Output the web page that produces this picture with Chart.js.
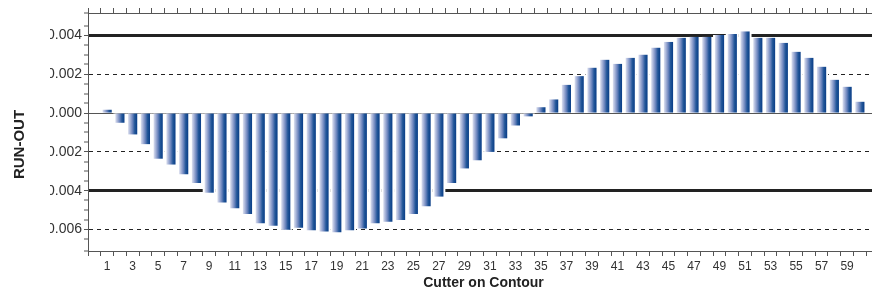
<!DOCTYPE html>
<html>
<head>
<meta charset="utf-8">
<script src="https://cdn.jsdelivr.net/npm/chart.js@4"></script>
<style>
  html, body { margin: 0; padding: 0; background: #fff; overflow: hidden; }
  #wrap { width: 882px; height: 292px; }
</style>
</head>
<body>
<div id="wrap"><canvas id="runout" width="882" height="292"></canvas></div>
<script>
/* Run-out per cutter - bar chart */

// cutter numbers (x categories)
const cutters = [
  1, 2, 3, 4, 5, 6, 7, 8, 9, 10, 11, 12, 13, 14, 15, 16, 17, 18, 19, 20,
  21, 22, 23, 24, 25, 26, 27, 28, 29, 30, 31, 32, 33, 34, 35, 36, 37, 38, 39, 40,
  41, 42, 43, 44, 45, 46, 47, 48, 49, 50, 51, 52, 53, 54, 55, 56, 57, 58, 59, 60
];

// run-out values
const runOut = [
  0.00017, -0.0005, -0.0011, -0.0016, -0.00235, -0.00265, -0.00315, -0.0036, -0.0041, -0.0046,
  -0.0049, -0.0052, -0.00567, -0.0058, -0.006, -0.0059, -0.00603, -0.0061, -0.00613, -0.00603,
  -0.00594, -0.00567, -0.0056, -0.0055, -0.0052, -0.0048, -0.0043, -0.0036, -0.00285, -0.00243,
  -0.002, -0.0013, -0.00064, -0.00017, 0.0003, 0.0007, 0.00145, 0.0019, 0.00233, 0.00274,
  0.00253, 0.00284, 0.003, 0.00336, 0.00366, 0.00387, 0.00392, 0.00392, 0.00402, 0.00407,
  0.0042, 0.00387, 0.00387, 0.00361, 0.00315, 0.00284, 0.00238, 0.00171, 0.00135, 0.00058
];

// labelled y ticks
const yTickLabels = [0.004, 0.002, 0, -0.002, -0.004, -0.006];
const yLimitLines = [0.004, -0.004];   // thick solid lines
const yWarnLines = [0.002, -0.002, -0.006];  // dashed lines

const barPct = 0.72;
const labelClipX = 50;

function near(list, v) {
  return list.some(t => Math.abs(t - v) < 1e-7);
}

function barGradient(ctx) {
  const chart = ctx.chart;
  const xs = chart.scales && chart.scales.x;
  if (!xs || ctx.dataIndex === undefined) return '#3a63a8';
  const cx = xs.getPixelForValue(cutters[ctx.dataIndex]);
  const half = (xs.getPixelForValue(1) - xs.getPixelForValue(0)) * barPct / 2;
  if (!isFinite(cx) || !isFinite(half)) return '#3a63a8';
  const g = chart.ctx.createLinearGradient(cx - half, 0, cx + half, 0);
  g.addColorStop(0, '#dde1f0');
  g.addColorStop(0.25, '#a3b0d6');
  g.addColorStop(0.5, '#6580ba');
  g.addColorStop(0.72, '#235799');
  g.addColorStop(1, '#083c86');
  return g;
}

// y tick labels are cut at the left like in the source picture
const clipYLabels = {
  id: 'clipYLabels',
  afterDatasetsDraw(chart) {
    const c = chart.ctx;
    c.save();
    c.beginPath();
    c.rect(labelClipX, 0, chart.width, chart.height);
    c.clip();
  },
  afterDraw(chart) {
    chart.ctx.restore();
  }
};

const points = cutters.map((c, i) => ({ x: c, y: runOut[i] }));

new Chart(document.getElementById('runout'), {
  type: 'bar',
  data: {
    datasets: [{
      label: 'backing',
      data: points,
      backgroundColor: '#ffffff',
      barPercentage: 1.02,
      categoryPercentage: 1,
      grouped: false,
      order: 2
    }, {
      label: 'Run-out',
      data: points,
      backgroundColor: barGradient,
      barPercentage: barPct,
      categoryPercentage: 1,
      grouped: false,
      order: 1
    }]
  },
  options: {
    responsive: false,
    animation: false,
    layout: { padding: { left: 0, right: 3, top: 0, bottom: 0 } },
    plugins: {
      legend: { display: false },
      tooltip: { enabled: false }
    },
    scales: {
      x: {
        type: 'linear',
        position: 'bottom',
        min: 0,
        max: 61,
        afterFit(scale) { scale.height = 41; },
        border: { color: '#555', width: 1 },
        grid: {
          drawOnChartArea: false,
          tickLength: 5,
          tickColor: '#555',
          tickWidth: 1
        },
        ticks: {
          stepSize: 1,
          autoSkip: false,
          maxRotation: 0,
          maxTicksLimit: 1000,
          padding: 3,
          color: '#333',
          font: { family: 'Liberation Sans', size: 12 },
          callback: v => (v % 2 === 1 && v <= 59) ? String(v) : ''
        },
        title: {
          display: true,
          text: 'Cutter on Contour',
          color: '#222',
          padding: { top: 0, bottom: 0 },
          font: { family: 'Liberation Sans', size: 14, weight: 'bold' }
        }
      },
      x2: {
        type: 'linear',
        position: 'top',
        min: 0,
        max: 61,
        afterFit(scale) { scale.height = 13; },
        border: { color: '#555', width: 1 },
        grid: {
          drawOnChartArea: false,
          tickLength: 5,
          tickColor: '#555',
          tickWidth: 1
        },
        ticks: {
          display: false,
          stepSize: 1,
          autoSkip: false,
          maxTicksLimit: 1000
        }
      },
      y: {
        min: -0.0071,
        max: 0.00515,
        afterFit(scale) { scale.width = 88; },
        border: {
          color: '#555',
          width: 1,
          dash: c => (c.tick && near(yWarnLines, c.tick.value)) ? [4, 4] : []
        },
        grid: {
          color: c => {
            if (!c.tick || !near(yTickLabels, c.tick.value)) return 'rgba(0,0,0,0)';
            if (Math.abs(c.tick.value) < 1e-9) return '#555';
            return '#222';
          },
          lineWidth: c => {
            if (!c.tick || !near(yTickLabels, c.tick.value)) return 0;
            return near(yLimitLines, c.tick.value) ? 3 : 1;
          },
          tickLength: 4,
          tickColor: '#555',
          tickWidth: 1,
          tickBorderDash: []
        },
        ticks: {
          stepSize: 0.0005,
          autoSkip: false,
          maxTicksLimit: 1000,
          padding: 2,
          z: 1,
          color: '#333',
          font: { family: 'Liberation Sans', size: 14 },
          callback: v => {
            if (!near(yTickLabels, v)) return '';
            return Math.abs(v) < 1e-9 ? '0.000' : v.toFixed(3);
          }
        },
        title: {
          display: true,
          text: 'RUN-OUT      ',
          color: '#222',
          padding: { top: 11, bottom: 0 },
          font: { family: 'Liberation Sans', size: 15, weight: 'bold' }
        }
      }
    }
  },
  plugins: [clipYLabels]
});
</script>
</body>
</html>
